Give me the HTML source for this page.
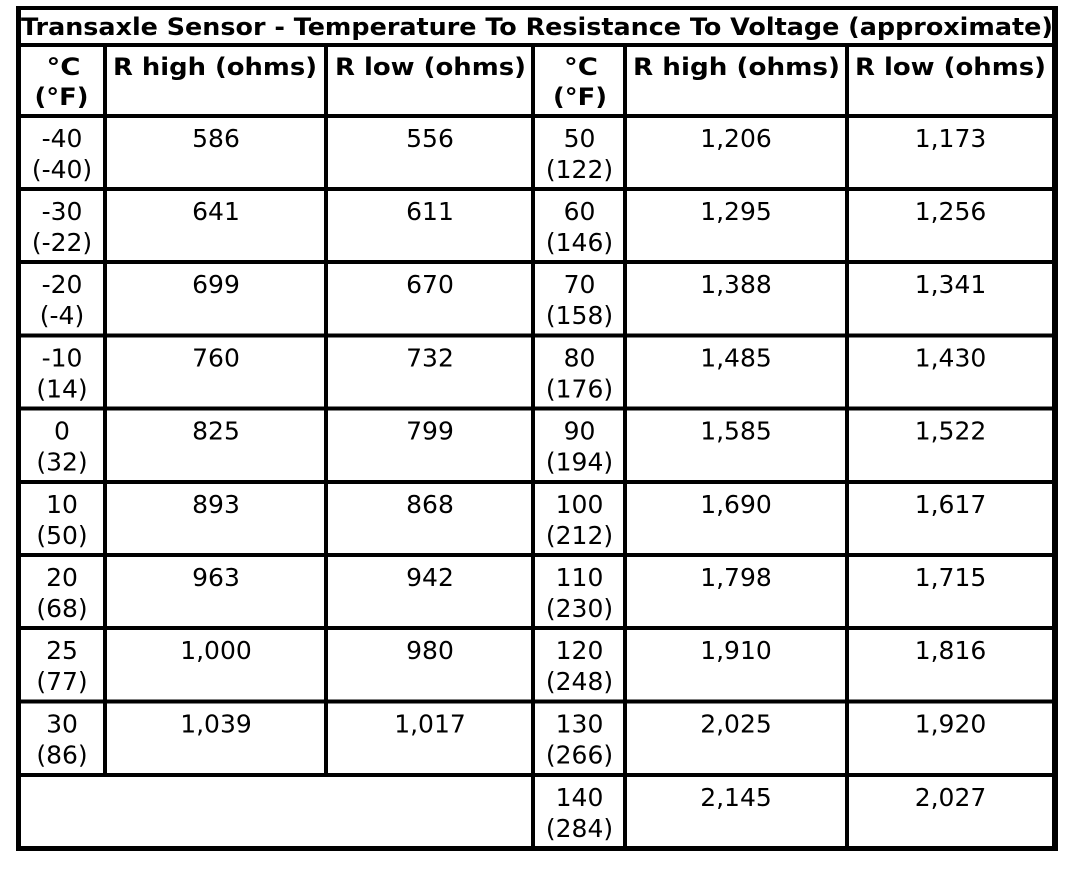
<!DOCTYPE html>
<html>
<head>
<meta charset="utf-8">
<style>
  html,body{margin:0;padding:0;background:#fff;}
  svg{display:block;}
  .t{font-family:"DejaVu Sans","Liberation Sans",sans-serif;font-weight:bold;font-size:24px;fill:#000;}
  .b{font-family:"DejaVu Sans","Liberation Sans",sans-serif;font-size:25px;fill:#000;}
</style>
</head>
<body>
<svg width="1072" height="872" viewBox="0 0 1072 872" xmlns="http://www.w3.org/2000/svg">
  <rect x="0" y="0" width="1072" height="872" fill="#fff"/>
  <!-- outer borders -->
  <rect x="16" y="6" width="1042" height="4" fill="#000"/>
  <rect x="16" y="846" width="1042" height="5" fill="#000"/>
  <rect x="16" y="6" width="5" height="845" fill="#000"/>
  <rect x="1052" y="6" width="6" height="845" fill="#000"/>
  <!-- horizontal lines -->
  <rect x="16" y="43" width="1042" height="4" fill="#000"/>
  <rect x="16" y="114" width="1042" height="4" fill="#000"/>
  <rect x="16" y="187" width="1042" height="4" fill="#000"/>
  <rect x="16" y="260" width="1042" height="4" fill="#000"/>
  <rect x="16" y="333.5" width="1042" height="4" fill="#000"/>
  <rect x="16" y="406.5" width="1042" height="4" fill="#000"/>
  <rect x="16" y="480" width="1042" height="4" fill="#000"/>
  <rect x="16" y="553" width="1042" height="4" fill="#000"/>
  <rect x="16" y="626" width="1042" height="4" fill="#000"/>
  <rect x="16" y="699.5" width="1042" height="4" fill="#000"/>
  <rect x="16" y="773" width="1042" height="4" fill="#000"/>
  <!-- vertical lines -->
  <rect x="103" y="45" width="4" height="730" fill="#000"/>
  <rect x="324" y="45" width="4" height="730" fill="#000"/>
  <rect x="531" y="45" width="4" height="803" fill="#000"/>
  <rect x="623" y="45" width="4" height="803" fill="#000"/>
  <rect x="845" y="45" width="4" height="803" fill="#000"/>

  <!-- title -->
  <text class="t" x="21" y="35" textLength="1032" lengthAdjust="spacingAndGlyphs">Transaxle Sensor - Temperature To Resistance To Voltage (approximate)</text>

  <!-- headers -->
  <text class="t" x="63.5" y="75" text-anchor="middle" textLength="34" lengthAdjust="spacingAndGlyphs">°C</text>
  <text class="t" x="61.5" y="105" text-anchor="middle" textLength="54" lengthAdjust="spacingAndGlyphs">(°F)</text>
  <text class="t" x="113" y="75" textLength="204" lengthAdjust="spacingAndGlyphs">R high (ohms)</text>
  <text class="t" x="335" y="75" textLength="191" lengthAdjust="spacingAndGlyphs">R low (ohms)</text>
  <text class="t" x="581" y="75" text-anchor="middle" textLength="34" lengthAdjust="spacingAndGlyphs">°C</text>
  <text class="t" x="580" y="105" text-anchor="middle" textLength="54" lengthAdjust="spacingAndGlyphs">(°F)</text>
  <text class="t" x="633" y="75" textLength="207" lengthAdjust="spacingAndGlyphs">R high (ohms)</text>
  <text class="t" x="855" y="75" textLength="191" lengthAdjust="spacingAndGlyphs">R low (ohms)</text>

  <g class="b" text-anchor="middle">
    <!-- Row 1 -->
    <text x="62" y="147">-40</text><text x="62" y="178">(-40)</text>
    <text x="216" y="147">586</text><text x="430" y="147">556</text>
    <text x="579.5" y="147">50</text><text x="579.5" y="178">(122)</text>
    <text x="736" y="147">1,206</text><text x="950.5" y="147">1,173</text>
    <!-- Row 2 -->
    <text x="62" y="220">-30</text><text x="62" y="251">(-22)</text>
    <text x="216" y="220">641</text><text x="430" y="220">611</text>
    <text x="579.5" y="220">60</text><text x="579.5" y="251">(146)</text>
    <text x="736" y="220">1,295</text><text x="950.5" y="220">1,256</text>
    <!-- Row 3 -->
    <text x="62" y="293">-20</text><text x="62" y="324">(-4)</text>
    <text x="216" y="293">699</text><text x="430" y="293">670</text>
    <text x="579.5" y="293">70</text><text x="579.5" y="324">(158)</text>
    <text x="736" y="293">1,388</text><text x="950.5" y="293">1,341</text>
    <!-- Row 4 -->
    <text x="62" y="366.5">-10</text><text x="62" y="397.5">(14)</text>
    <text x="216" y="366.5">760</text><text x="430" y="366.5">732</text>
    <text x="579.5" y="366.5">80</text><text x="579.5" y="397.5">(176)</text>
    <text x="736" y="366.5">1,485</text><text x="950.5" y="366.5">1,430</text>
    <!-- Row 5 -->
    <text x="62" y="439.5">0</text><text x="62" y="470.5">(32)</text>
    <text x="216" y="439.5">825</text><text x="430" y="439.5">799</text>
    <text x="579.5" y="439.5">90</text><text x="579.5" y="470.5">(194)</text>
    <text x="736" y="439.5">1,585</text><text x="950.5" y="439.5">1,522</text>
    <!-- Row 6 -->
    <text x="62" y="513">10</text><text x="62" y="544">(50)</text>
    <text x="216" y="513">893</text><text x="430" y="513">868</text>
    <text x="579.5" y="513">100</text><text x="579.5" y="544">(212)</text>
    <text x="736" y="513">1,690</text><text x="950.5" y="513">1,617</text>
    <!-- Row 7 -->
    <text x="62" y="586">20</text><text x="62" y="617">(68)</text>
    <text x="216" y="586">963</text><text x="430" y="586">942</text>
    <text x="579.5" y="586">110</text><text x="579.5" y="617">(230)</text>
    <text x="736" y="586">1,798</text><text x="950.5" y="586">1,715</text>
    <!-- Row 8 -->
    <text x="62" y="659">25</text><text x="62" y="690">(77)</text>
    <text x="216" y="659">1,000</text><text x="430" y="659">980</text>
    <text x="579.5" y="659">120</text><text x="579.5" y="690">(248)</text>
    <text x="736" y="659">1,910</text><text x="950.5" y="659">1,816</text>
    <!-- Row 9 -->
    <text x="62" y="732.5">30</text><text x="62" y="763.5">(86)</text>
    <text x="216" y="732.5">1,039</text><text x="430" y="732.5">1,017</text>
    <text x="579.5" y="732.5">130</text><text x="579.5" y="763.5">(266)</text>
    <text x="736" y="732.5">2,025</text><text x="950.5" y="732.5">1,920</text>
    <!-- Row 10 -->
    <text x="579.5" y="806">140</text><text x="579.5" y="837">(284)</text>
    <text x="736" y="806">2,145</text><text x="950.5" y="806">2,027</text>
  </g>
</svg>
</body>
</html>
